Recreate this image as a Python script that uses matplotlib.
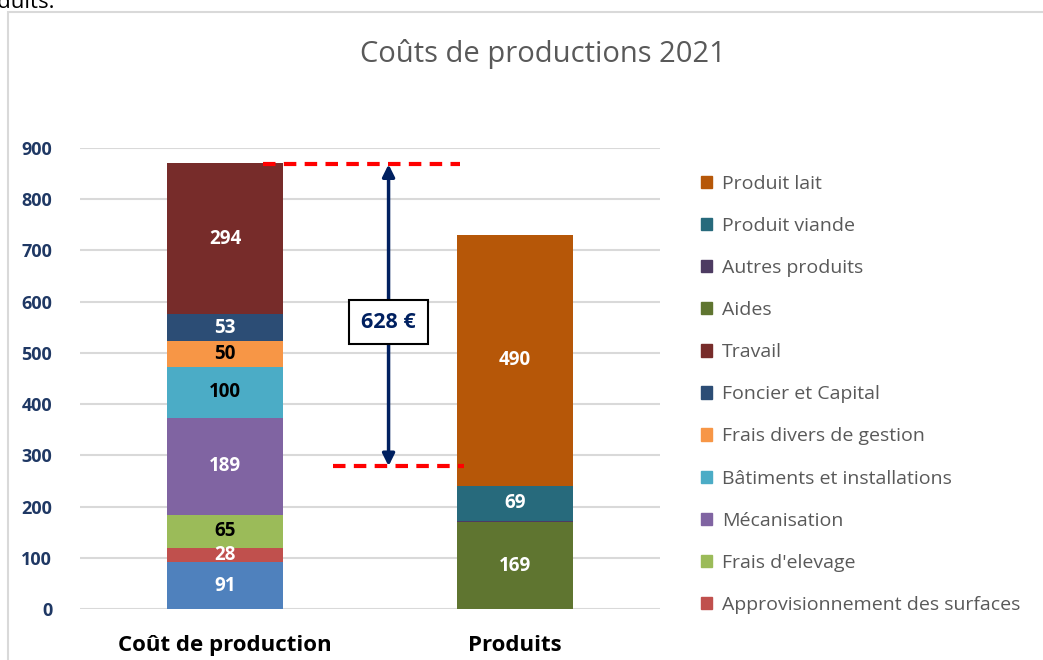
import matplotlib.pyplot as plt
from matplotlib.patches import Rectangle, Patch

categories = ["Coût de production", "Produits"]

# cost components (bottom to top)
cost_names = ["Approvisionnement des animaux", "Approvisionnement des surfaces",
              "Frais d'elevage", "Mécanisation", "Bâtiments et installations",
              "Frais divers de gestion", "Foncier et Capital", "Travail"]
cost_values = [91, 28, 65, 189, 100, 50, 53, 294]
cost_colors = ["#4F81BD", "#C0504D", "#9BBB59", "#8064A2", "#4BACC6",
               "#F79646", "#2C4D75", "#772C2A"]
cost_text = ["white", "white", "black", "white", "black", "black", "white", "white"]

# product components (bottom to top)
prod_names = ["Aides", "Autres produits", "Produit viande", "Produit lait"]
prod_values = [169, 3, 69, 490]
prod_colors = ["#5F7530", "#4D3B62", "#276A7C", "#B65708"]
prod_text = ["white", None, "white", "white"]

gap_value = 628
gap_top = 868
gap_bottom = 279

yticks = [0, 100, 200, 300, 400, 500, 600, 700, 800, 900]

plt.rcParams["font.family"] = ["Open Sans", "DejaVu Sans"]

fig = plt.figure(figsize=(10.43, 6.6), dpi=100)
ax = fig.add_axes([80 / 1043, 1 - 609 / 660, 580 / 1043, 461 / 660])

width = 0.4
handles = {}


def stack(x, values, names, colors, text_colors):
    bottom = 0
    for v, n, c, tc in zip(values, names, colors, text_colors):
        b = ax.bar(x, v, width, bottom=bottom, color=c, zorder=2)
        handles[n] = b
        if tc is not None:
            ax.text(x, bottom + v / 2, str(v), ha="center", va="center",
                    color=tc, fontsize=13.5, fontweight="bold", zorder=3)
        bottom += v


stack(0, cost_values, cost_names, cost_colors, cost_text)
stack(1, prod_values, prod_names, prod_colors, prod_text)

ax.set_xlim(-0.5, 1.5)
ax.set_ylim(0, 900)
ax.set_yticks(yticks)
ax.set_yticklabels([str(t) for t in yticks], color="#1F3864",
                   fontsize=13, fontweight="bold")
ax.set_xticks([0, 1])
ax.set_xticklabels(categories, fontsize=16, fontweight="bold", color="black")
ax.tick_params(length=0)
ax.tick_params(axis="x", pad=19)
ax.tick_params(axis="y", pad=20)
ax.grid(True, axis="y", color="#D9D9D9", lw=1.5, zorder=0)
for s in ax.spines.values():
    s.set_visible(False)

# gap annotation
ax.plot([0.13, 0.81], [gap_top, gap_top], color="red", lw=3,
        ls=(0, (3, 2)), clip_on=False, zorder=4)
ax.plot([0.374, 0.824], [gap_bottom, gap_bottom], color="red", lw=3,
        ls=(0, (3, 2)), clip_on=False, zorder=4)
ax.annotate("", xy=(0.564, gap_top), xytext=(0.564, gap_bottom),
            arrowprops=dict(arrowstyle="<|-|>", color="#002060", lw=2.5,
                            mutation_scale=18, shrinkA=0, shrinkB=0),
            zorder=5)
ax.text(0.564, 560, f"{gap_value} €", ha="center", va="center",
        color="#002060", fontsize=15.5, fontweight="bold", zorder=6,
        bbox=dict(boxstyle="square,pad=0.55", fc="white", ec="black", lw=1.5))

# legend
legend_order = ["Produit lait", "Produit viande", "Autres produits", "Aides",
                "Travail", "Foncier et Capital", "Frais divers de gestion",
                "Bâtiments et installations", "Mécanisation", "Frais d'elevage",
                "Approvisionnement des surfaces"]
leg_handles = [Patch(color=handles[n].patches[0].get_facecolor()) for n in legend_order]
fig.legend(leg_handles, legend_order, loc="upper left",
           bbox_to_anchor=(693 / 1043, 1 - 167 / 660), frameon=False,
           fontsize=14, labelcolor="#595959", handlelength=0.6,
           handleheight=0.6, handletextpad=0.5, labelspacing=1.24,
           borderaxespad=0)

fig.text(543 / 1043, 1 - 54 / 660, "Coûts de productions 2021", ha="center",
         va="center", fontsize=21, color="#595959")

# chart border and clipped text above
fig.patches.append(Rectangle((8 / 1043, -0.1), 1.2, 1 - 12 / 660 + 0.1,
                             transform=fig.transFigure, fill=False,
                             ec="#D9D9D9", lw=1.5))
fig.text(55 / 1043, 1 - 8 / 660, "produits.", ha="right", va="baseline",
         fontsize=16, color="black")

fig.savefig("out.png", dpi=100)
